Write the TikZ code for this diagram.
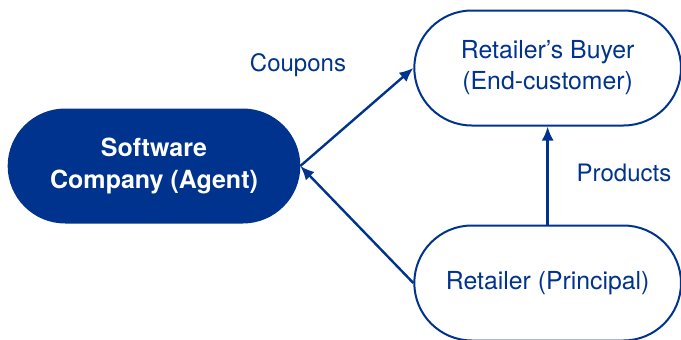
\documentclass[tikz,border=0pt]{standalone}
\usepackage{fontspec}
\setmainfont{TeX Gyre Heros}
\usetikzlibrary{positioning, shapes.misc, arrows.meta}
\definecolor{kblue}{HTML}{00338D}

\begin{document}
\begin{tikzpicture}[> = {Latex[length = 7pt, width = 6pt]}, % arrow head style
                font = \fontsize{12}{15.5}\selectfont, % text size
                line width = 1pt % line style
            ]

            \tikzstyle{party}=[rounded rectangle, draw = kblue, text = kblue,
            align = center, font = \fontsize{12.4}{15.5}\selectfont,
            minimum width = 140pt, minimum height = 57.5pt]
            \tikzstyle{agent}=[party, fill = kblue, text = white,
            font = \fontsize{12.5}{16}\selectfont\bfseries,
            minimum width = 152pt, minimum height = 56.5pt]
            \tikzstyle{flow}=[draw = kblue, line width = 1.2pt, ->]

            \useasboundingbox (-77pt,83pt) rectangle (263.5pt,-86.5pt);

            \node (software) [agent] {Software\\Company (Agent)};
            \node (buyer) [party, right = 56.5pt of software, yshift = 49pt]
            {Retailer’s Buyer\\(End-customer)};
            \node (retailer) [party, below = 49pt of buyer] {Retailer (Principal)};

            \node (coupons) [text = kblue] at (72pt,50.5pt) {Coupons};
            \node (products) [text = kblue] at (235pt,-3.5pt) {Products};

            \draw[flow] (software.east) -- (buyer.west);
            \draw[flow] (retailer.west) -- (software.east);
            \draw[flow] (retailer.north) -- (buyer.south);

        \end{tikzpicture}
\end{document}
